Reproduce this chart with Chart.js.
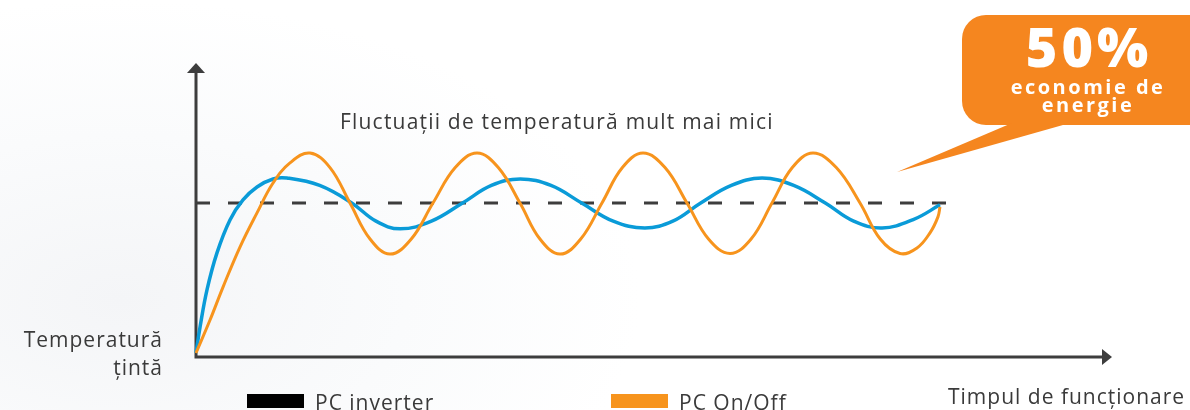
<!DOCTYPE html>
<html>
<head>
<meta charset="utf-8">
<script src="https://cdn.jsdelivr.net/npm/chart.js@4.4.0/dist/chart.umd.min.js"></script>
<style>
  html, body { margin: 0; padding: 0; background: #fff; }
  #wrap { position: relative; width: 1190px; height: 410px; overflow: hidden;
          background: radial-gradient(ellipse 520px 300px at 120px 300px, #f4f5f7 0%, #fafbfc 55%, #ffffff 100%); }
  canvas { position: absolute; left: 0; top: 0; }
</style>
</head>
<body>
<div id="wrap"><canvas id="mycanvas" width="1190" height="410"></canvas></div>
<script>
// time axis 0..100, temperature 0..95.45, target temperature = 50
var target = 50;
var targetTime = [0, 83.7];

var inverterTime = [0, 0.44, 1.20, 2.29, 3.71, 5.13, 6.66, 8.41, 9.93, 13.5, 17.0, 19.65, 22.3, 25.7, 29.1,
  32.25, 35.4, 38.75, 42.1, 45.55, 49.0, 52.05, 55.1, 58.45, 61.8, 65.25, 68.7, 71.8, 74.9, 78.3, 81.22];
var inverterTemp = [1.3, 9.7, 21.8, 33.8, 44.5, 51.0, 55.2, 57.8, 58.1, 55.7, 50, 44.1, 41.6, 44.1, 50,
  55.7, 57.8, 55.7, 50, 44.1, 41.9, 44.1, 50, 55.7, 58.1, 55.7, 50, 44.1, 41.9, 44.6, 49.4];

var onOffTime = [0, 1.53, 2.95, 4.80, 6.66, 8.41, 10.26, 12.45, 14.63, 16.81, 19.0, 21.18, 23.5, 25.87,
  28.3, 30.68, 33.0, 35.37, 37.55, 39.74, 42.0, 44.32, 46.55, 48.80, 51.2, 53.60, 55.95, 58.30,
  60.6, 62.88, 65.1, 67.36, 69.9, 72.49, 74.7, 76.86, 78.71, 80.13, 81.00, 81.22];
var onOffTemp = [1.3, 12.0, 22.7, 35.7, 46.8, 56.5, 63.0, 66.2, 61.5, 50, 38.3, 33.4, 38.3, 50,
  61.5, 66.2, 61.5, 50, 38.3, 33.4, 38.3, 50, 61.5, 66.2, 61.5, 50, 38.3, 33.6,
  38.3, 50, 61.5, 66.2, 61.5, 50, 38.3, 33.6, 35.4, 40.3, 45.5, 48.7];

var seriesNames = ['PC inverter', 'PC On/Off'];
var legendColors = ['#000000', '#f7941d'];

function pts(xs, ys) {
  var out = [];
  for (var i in xs) { out.push({x: xs[i], y: ys[i]}); }
  return out;
}

var font = '"Open Sans", "Noto Sans", sans-serif';

var decor = {
  id: 'decor',
  beforeDatasetsDraw: function (chart) {
    var ctx = chart.ctx, a = chart.chartArea;
    ctx.save();
    ctx.strokeStyle = '#3d3d3d';
    ctx.fillStyle = '#3d3d3d';
    ctx.lineWidth = 3;
    ctx.beginPath();
    ctx.moveTo(a.left, a.top + 8);
    ctx.lineTo(a.left, a.bottom);
    ctx.lineTo(a.right - 8, a.bottom);
    ctx.stroke();
    // arrow heads
    ctx.beginPath();
    ctx.moveTo(a.left, a.top);
    ctx.lineTo(a.left - 9, a.top + 10);
    ctx.lineTo(a.left + 9, a.top + 10);
    ctx.closePath();
    ctx.fill();
    ctx.beginPath();
    ctx.moveTo(a.right, a.bottom);
    ctx.lineTo(a.right - 10, a.bottom - 8);
    ctx.lineTo(a.right - 10, a.bottom + 8);
    ctx.closePath();
    ctx.fill();
    ctx.restore();
  },
  afterDraw: function (chart) {
    var ctx = chart.ctx;
    ctx.save();
    // callout
    ctx.fillStyle = '#f5861f';
    ctx.beginPath();
    ctx.roundRect(962, 15, 260, 110, 24);
    ctx.fill();
    ctx.beginPath();
    ctx.moveTo(1012, 123);
    ctx.lineTo(1070, 123);
    ctx.lineTo(897, 172);
    ctx.closePath();
    ctx.fill();

    ctx.fillStyle = '#ffffff';
    ctx.textAlign = 'center';
    ctx.textBaseline = 'alphabetic';
    ctx.letterSpacing = '4px';
    ctx.font = '800 54px ' + font;
    ctx.fillText('50%', 1089, 67);
    ctx.letterSpacing = '2.5px';
    ctx.font = '700 20px ' + font;
    ctx.fillText('economie de', 1088, 94);
    ctx.fillText('energie', 1088, 112);

    // texts
    ctx.fillStyle = '#3a3a3a';
    ctx.letterSpacing = '1.2px';
    ctx.font = '400 21px ' + font;
    ctx.textAlign = 'left';
    ctx.fillText('Fluctuații de temperatură mult mai mici', 340, 129);
    ctx.letterSpacing = '1px';
    ctx.textAlign = 'right';
    ctx.fillText('Temperatură', 163, 347);
    ctx.fillText('țintă', 163, 375);
    ctx.textAlign = 'left';
    ctx.fillText('Timpul de funcționare', 948, 404);

    // legend
    var lx = [247, 611];
    for (var i = 0; i < seriesNames.length; i++) {
      ctx.fillStyle = legendColors[i];
      ctx.fillRect(lx[i], 394, 57, 14);
      ctx.fillStyle = '#3a3a3a';
      ctx.fillText(seriesNames[i], lx[i] + 68, 410);
    }
    ctx.restore();
  }
};

var chartdata = {
  datasets: [
    {
      label: seriesNames[1],
      data: pts(onOffTime, onOffTemp),
      borderColor: '#f7941d',
      borderWidth: 3,
      tension: 0.4,
      pointRadius: 0,
      order: 0
    },
    {
      label: seriesNames[0],
      data: pts(inverterTime, inverterTemp),
      borderColor: '#0a9bd8',
      borderWidth: 3.5,
      tension: 0.4,
      pointRadius: 0,
      order: 1
    },
    {
      label: 'target',
      data: pts(targetTime, [target, target]),
      borderColor: '#3d3d3d',
      borderWidth: 3,
      borderDash: [14, 18],
      pointRadius: 0,
      order: 2
    }
  ]
};

var ctx = document.getElementById('mycanvas');
new Chart(ctx, {
  type: 'line',
  data: chartdata,
  options: {
    responsive: false,
    animation: false,
    clip: false,
    layout: { padding: { left: 196, right: 78, top: 63, bottom: 53 } },
    scales: {
      x: { type: 'linear', min: 0, max: 100, display: false },
      y: { min: 0, max: 95.45, display: false }
    },
    plugins: { legend: { display: false }, tooltip: { enabled: false } }
  },
  plugins: [decor]
});
</script>
</body>
</html>
